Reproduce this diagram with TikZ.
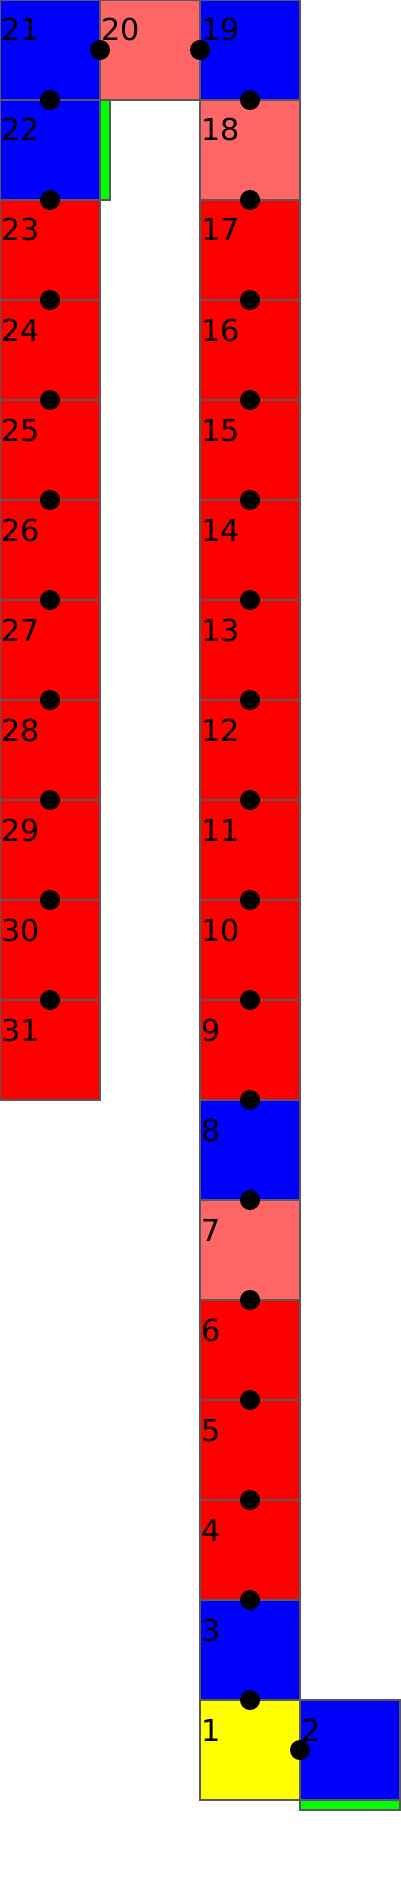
\documentclass[tikz,border=0pt]{standalone}
\usepackage{fontspec}
\setmainfont{DejaVu Sans}
\usetikzlibrary{positioning}
\definecolor{cellblue}{HTML}{0000FF}
\definecolor{cellpink}{HTML}{FF6666}
\definecolor{cellred}{HTML}{FF0000}
\definecolor{cellyellow}{HTML}{FFFF00}
\definecolor{barpaint}{HTML}{00FF00}
\tikzset{
      cellbox/.style={
        draw=black!65,
        line width=0.3pt,
        minimum width=1cm,
        minimum height=1cm,
        inner sep=0pt,
        outer sep=0pt
      },
      celltag/.style={
        anchor=base west,
        inner sep=0pt,
        xshift=0.01cm,
        yshift=-0.41cm,
        font=\fontsize{8.6pt}{10pt}\selectfont
      },
      barbox/.style={
        draw=black!65,
        line width=0.3pt,
        fill=barpaint,
        inner sep=0pt,
        outer sep=0pt,
        anchor=north west
      },
      joint/.style={fill=black}
    }

\begin{document}
\begin{tikzpicture}[x=1cm,y=1cm]
    \useasboundingbox (0,0) rectangle (4,-19);
    % top row
    \node[cellbox, fill=cellblue, label={[celltag]north west:21}] (c21) at (0.5,-0.5) {};
    \node[cellbox, fill=cellpink, label={[celltag]north west:20}] (c20) at (1.5,-0.5) {};
    \node[cellbox, fill=cellblue, label={[celltag]north west:19}] (c19) at (2.5,-0.5) {};
    % left column
    \node[cellbox, fill=cellblue, label={[celltag]north west:22}] (c22) at (0.5,-1.5) {};
    \node[cellbox, fill=cellred, label={[celltag]north west:23}] (c23) at (0.5,-2.5) {};
    \node[cellbox, fill=cellred, label={[celltag]north west:24}] (c24) at (0.5,-3.5) {};
    \node[cellbox, fill=cellred, label={[celltag]north west:25}] (c25) at (0.5,-4.5) {};
    \node[cellbox, fill=cellred, label={[celltag]north west:26}] (c26) at (0.5,-5.5) {};
    \node[cellbox, fill=cellred, label={[celltag]north west:27}] (c27) at (0.5,-6.5) {};
    \node[cellbox, fill=cellred, label={[celltag]north west:28}] (c28) at (0.5,-7.5) {};
    \node[cellbox, fill=cellred, label={[celltag]north west:29}] (c29) at (0.5,-8.5) {};
    \node[cellbox, fill=cellred, label={[celltag]north west:30}] (c30) at (0.5,-9.5) {};
    \node[cellbox, fill=cellred, label={[celltag]north west:31}] (c31) at (0.5,-10.5) {};
    % right column
    \node[cellbox, fill=cellpink, label={[celltag]north west:18}] (c18) at (2.5,-1.5) {};
    \node[cellbox, fill=cellred, label={[celltag]north west:17}] (c17) at (2.5,-2.5) {};
    \node[cellbox, fill=cellred, label={[celltag]north west:16}] (c16) at (2.5,-3.5) {};
    \node[cellbox, fill=cellred, label={[celltag]north west:15}] (c15) at (2.5,-4.5) {};
    \node[cellbox, fill=cellred, label={[celltag]north west:14}] (c14) at (2.5,-5.5) {};
    \node[cellbox, fill=cellred, label={[celltag]north west:13}] (c13) at (2.5,-6.5) {};
    \node[cellbox, fill=cellred, label={[celltag]north west:12}] (c12) at (2.5,-7.5) {};
    \node[cellbox, fill=cellred, label={[celltag]north west:11}] (c11) at (2.5,-8.5) {};
    \node[cellbox, fill=cellred, label={[celltag]north west:10}] (c10) at (2.5,-9.5) {};
    \node[cellbox, fill=cellred, label={[celltag]north west:9}] (c9) at (2.5,-10.5) {};
    \node[cellbox, fill=cellblue, label={[celltag]north west:8}] (c8) at (2.5,-11.5) {};
    \node[cellbox, fill=cellpink, label={[celltag]north west:7}] (c7) at (2.5,-12.5) {};
    \node[cellbox, fill=cellred, label={[celltag]north west:6}] (c6) at (2.5,-13.5) {};
    \node[cellbox, fill=cellred, label={[celltag]north west:5}] (c5) at (2.5,-14.5) {};
    \node[cellbox, fill=cellred, label={[celltag]north west:4}] (c4) at (2.5,-15.5) {};
    \node[cellbox, fill=cellblue, label={[celltag]north west:3}] (c3) at (2.5,-16.5) {};
    \node[cellbox, fill=cellyellow, label={[celltag]north west:1}] (c1) at (2.5,-17.5) {};
    \node[cellbox, fill=cellblue, label={[celltag]north west:2}] (c2) at (3.5,-17.5) {};
    % green bars
    \node[barbox, minimum width=0.1cm, minimum height=1cm] (g22) at (c22.north east) {};
    \node[barbox, minimum width=1cm, minimum height=0.1cm] (g2) at (c2.south west) {};
    % joints
    \fill[joint] (c21.east) circle (0.1);
    \fill[joint] (c20.east) circle (0.1);
    \fill[joint] (c21.south) circle (0.1);
    \fill[joint] (c22.south) circle (0.1);
    \fill[joint] (c23.south) circle (0.1);
    \fill[joint] (c24.south) circle (0.1);
    \fill[joint] (c25.south) circle (0.1);
    \fill[joint] (c26.south) circle (0.1);
    \fill[joint] (c27.south) circle (0.1);
    \fill[joint] (c28.south) circle (0.1);
    \fill[joint] (c29.south) circle (0.1);
    \fill[joint] (c30.south) circle (0.1);
    \fill[joint] (c19.south) circle (0.1);
    \fill[joint] (c18.south) circle (0.1);
    \fill[joint] (c17.south) circle (0.1);
    \fill[joint] (c16.south) circle (0.1);
    \fill[joint] (c15.south) circle (0.1);
    \fill[joint] (c14.south) circle (0.1);
    \fill[joint] (c13.south) circle (0.1);
    \fill[joint] (c12.south) circle (0.1);
    \fill[joint] (c11.south) circle (0.1);
    \fill[joint] (c10.south) circle (0.1);
    \fill[joint] (c9.south) circle (0.1);
    \fill[joint] (c8.south) circle (0.1);
    \fill[joint] (c7.south) circle (0.1);
    \fill[joint] (c6.south) circle (0.1);
    \fill[joint] (c5.south) circle (0.1);
    \fill[joint] (c4.south) circle (0.1);
    \fill[joint] (c3.south) circle (0.1);
    \fill[joint] (c1.east) circle (0.1);
\end{tikzpicture}
\end{document}
